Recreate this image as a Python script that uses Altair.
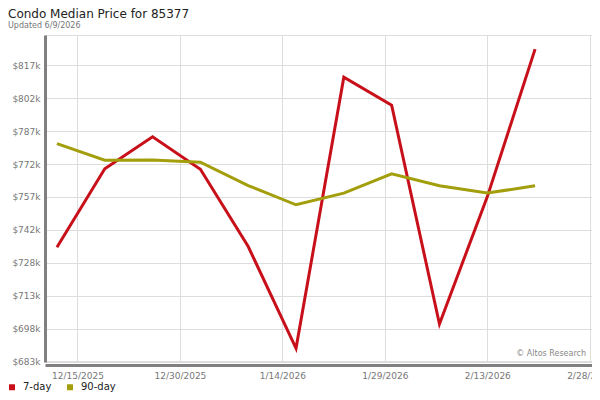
import altair as alt
import pandas as pd

# ---- data (values in thousands of dollars) ----
dates = ["2025-12-12", "2025-12-19", "2025-12-26", "2026-01-02", "2026-01-09",
         "2026-01-16", "2026-01-23", "2026-01-30", "2026-02-06", "2026-02-13",
         "2026-02-20"]
seven_day = [735.1, 770.6, 785.1, 770.4, 735.4, 689.3, 812.1, 799.4, 700.3, 757.9, 824.8]
ninety_day = [782.0, 774.5, 774.6, 773.6, 763.0, 754.3, 759.6, 768.3, 762.9, 759.6, 762.9]
series_names = ["7-day", "90-day"]
series_colors = ["#c8101a", "#a39e0b"]
y_ticks = [683.35, 698.25, 713.15, 728.05, 742.95, 757.85, 772.75, 787.65, 802.55, 817.45]
x_ticks = [(2025, 12, 15), (2025, 12, 30), (2026, 1, 14), (2026, 1, 29), (2026, 2, 13), (2026, 2, 28)]

rows = []
for d, v in zip(dates, seven_day):
    rows.append({"date": d + "T00:00:00", "value": v, "series": series_names[0]})
for d, v in zip(dates, ninety_day):
    rows.append({"date": d + "T00:00:00", "value": v, "series": series_names[1]})
df = pd.DataFrame(rows)

FONT = "DejaVu Sans"

x_enc = alt.X(
    "date:T",
    scale=alt.Scale(domain=[alt.DateTime(year=2025, month=12, date=10, hours=6),
                            alt.DateTime(year=2026, month=2, date=28, hours=8)]),
    axis=alt.Axis(
        values=[alt.DateTime(year=y, month=m, date=d) for (y, m, d) in x_ticks],
        format="%-m/%-d/%Y", title=None, ticks=False, labelPadding=6,
        labelFontSize=9, labelColor="#777777", labelFont=FONT,
        domainColor="#808080", domainWidth=3, offset=3,
        gridColor="#dddddd", gridWidth=1, labelOverlap=False,
    ),
)
y_enc = alt.Y(
    "value:Q",
    scale=alt.Scale(domain=[683.1, 831.2], nice=False, zero=False),
    axis=alt.Axis(
        values=y_ticks, labelExpr="'$' + floor(datum.value) + 'k'",
        title=None, ticks=False, labelPadding=5,
        labelFontSize=9, labelColor="#777777", labelFont=FONT,
        domainColor="#808080", domainWidth=3,
        gridColor="#dddddd", gridWidth=1,
    ),
)

lines = alt.Chart(df).mark_line(strokeWidth=3, strokeJoin="miter").encode(
    x=x_enc,
    y=y_enc,
    color=alt.Color(
        "series:N",
        scale=alt.Scale(domain=series_names, range=series_colors),
        legend=alt.Legend(
            title=None, orient="none", legendX=-38, legendY=347,
            direction="horizontal", symbolType="square", symbolSize=9,
            symbolStrokeWidth=3, labelFontSize=10, labelFont=FONT,
            labelColor="#222222", labelOffset=6, columnPadding=10, padding=0,
        ),
    ),
)

credit = alt.Chart(pd.DataFrame({"t": ["© Altos Research"]})).mark_text(
    align="right", baseline="middle", fontSize=8, font=FONT, color="#888888"
).encode(x=alt.value(541), y=alt.value(319), text="t:N")

chart = alt.layer(lines, credit).properties(
    width=547,
    height=327,
    autosize=alt.AutoSizeParams(type="none"),
    padding={"left": 37, "top": 27, "right": 0, "bottom": 30},
    title=alt.TitleParams(
        text="Condo Median Price for 85377",
        subtitle="Updated 6/9/2026",
        anchor="start", frame="group", dx=-37, offset=4,
        fontSize=12, font=FONT, fontWeight="normal", color="#222222",
        subtitleFontSize=8, subtitleFont=FONT, subtitleColor="#777777",
        subtitlePadding=1,
    ),
).configure_view(stroke="#dddddd", strokeWidth=1)

chart.save("out.html", embed_options={"renderer": "svg", "actions": False})
